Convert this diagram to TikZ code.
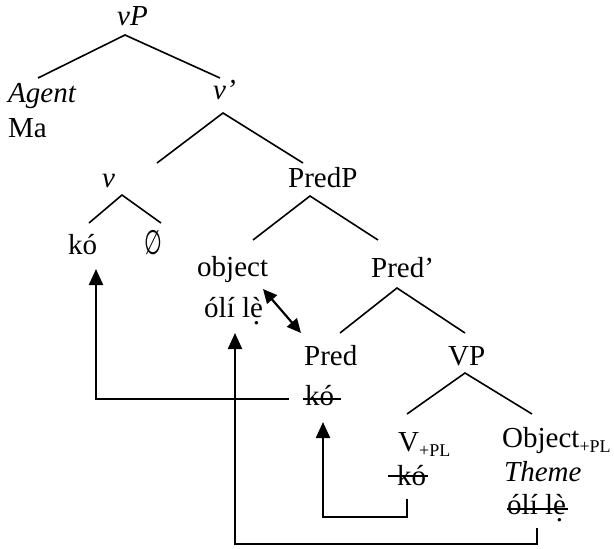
\documentclass[tikz,border=0pt]{standalone}
\usepackage{fontspec}
\setmainfont{Liberation Serif}
\newfontfamily\symfont{DejaVu Sans}
\usetikzlibrary{arrows.meta}
% e with grave accent and a dot below
\newcommand{\edot}{\ooalign{è\cr\hidewidth\raisebox{-0.25em}{.}\hidewidth\cr}}
\newcommand{\plsub}{\raisebox{-5pt}{\fontsize{18}{20}\selectfont +PL}}
\begin{document}
\begin{tikzpicture}[x=1pt,y=1pt,
  lbl/.style={anchor=base west, inner sep=0pt, font=\fontsize{29}{35}\selectfont},
  branch/.style={line width=1.6pt},
  strike/.style={line width=1.6pt},
  move/.style={line width=2.2pt, -{Triangle[width=14pt,length=16pt]}},
  swap/.style={line width=2.2pt, {Triangle[width=13pt,length=14pt]}-{Triangle[width=13pt,length=14pt]}}]
\useasboundingbox (0,0) rectangle (614,-549);

% labels of the tree
\node[lbl] (vP)      at (117,-25)  {\itshape vP};
\node[lbl] (agent)   at (8,-102)   {\itshape Agent};
\node[lbl] (ma)      at (8,-137)   {Ma};
\node[lbl] (vbar)    at (213,-99)  {\itshape v’};
\node[lbl] (v)       at (102,-187) {\itshape v};
\node[lbl] (predP)   at (288,-187) {PredP};
\node[lbl] (koA)     at (68,-254)  {kó};
\node[lbl] (null)    at (144,-254) {\scalebox{0.6}[1]{\symfont\fontsize{34}{38}\selectfont ∅}};
\node[lbl] (obj)     at (197,-276) {object};
\node[lbl] (oliA)    at (204,-317) {ólí l\edot};
\node[lbl] (predbar) at (371,-277) {Pred’};
\node[lbl] (pred)    at (304,-365) {Pred};
\node[lbl] (koB)     at (305,-405) {kó};
\node[lbl] (VP)      at (448,-365) {VP};
\node[lbl] (V)       at (398,-451) {V\plsub};
\node[lbl] (koC)     at (397,-485) {kó};
\node[lbl] (Obj)     at (502,-447) {Object\plsub};
\node[lbl] (theme)   at (504,-481) {\itshape Theme};
\node[lbl] (oliB)    at (507,-514) {ólí l\edot};

% branches
\draw[branch] ([xshift=30pt,yshift=24pt]agent.base west) -- ([xshift=8pt,yshift=-10pt]vP.base west)
              -- ([xshift=7pt,yshift=21pt]vbar.base west);
\draw[branch] ([xshift=55pt,yshift=24pt]v.base west) -- ([xshift=10pt,yshift=-14pt]vbar.base west)
              -- ([xshift=15pt,yshift=24pt]predP.base west);
\draw[branch] ([xshift=21pt,yshift=31pt]koA.base west) -- ([xshift=20pt,yshift=-8pt]v.base west)
              -- ([xshift=17pt,yshift=31pt]null.base west);
\draw[branch] ([xshift=56pt,yshift=36pt]obj.base west) -- ([xshift=22pt,yshift=-9pt]predP.base west)
              -- ([xshift=7pt,yshift=37pt]predbar.base west);
\draw[branch] ([xshift=36pt,yshift=32pt]pred.base west) -- ([xshift=26pt,yshift=-11pt]predbar.base west)
              -- ([xshift=17pt,yshift=32pt]VP.base west);
\draw[branch] ([xshift=9pt,yshift=37pt]V.base west) -- ([xshift=17pt,yshift=-8pt]VP.base west)
              -- ([xshift=30pt,yshift=33pt]Obj.base west);

% struck-out copies
\draw[strike] ([xshift=-2pt,yshift=6pt]koB.base west) -- ([xshift=36pt,yshift=6pt]koB.base west);
\draw[strike] ([xshift=-9pt,yshift=9pt]koC.base west) -- ([xshift=31pt,yshift=9pt]koC.base west);
\draw[strike] ([yshift=5pt]oliB.base west) -- ([xshift=61pt,yshift=5pt]oliB.base west);

% movement arrows
\draw[move] ([xshift=-16pt,yshift=6pt]koB.base west) -| ([xshift=28pt,yshift=-15pt]koA.base west);
\draw[move] ([xshift=10pt,yshift=-14pt]koC.base west) -- ++(0,-18) -| ([xshift=18pt,yshift=-17pt]koB.base west);
\draw[move] ([xshift=30pt,yshift=-14pt]oliB.base west) -- ++(0,-16) -| ([xshift=31pt,yshift=-16pt]oliA.base west);
\draw[swap] ([xshift=66pt,yshift=-13pt]obj.base west) -- ([xshift=-3pt,yshift=32pt]pred.base west);
\end{tikzpicture}
\end{document}
